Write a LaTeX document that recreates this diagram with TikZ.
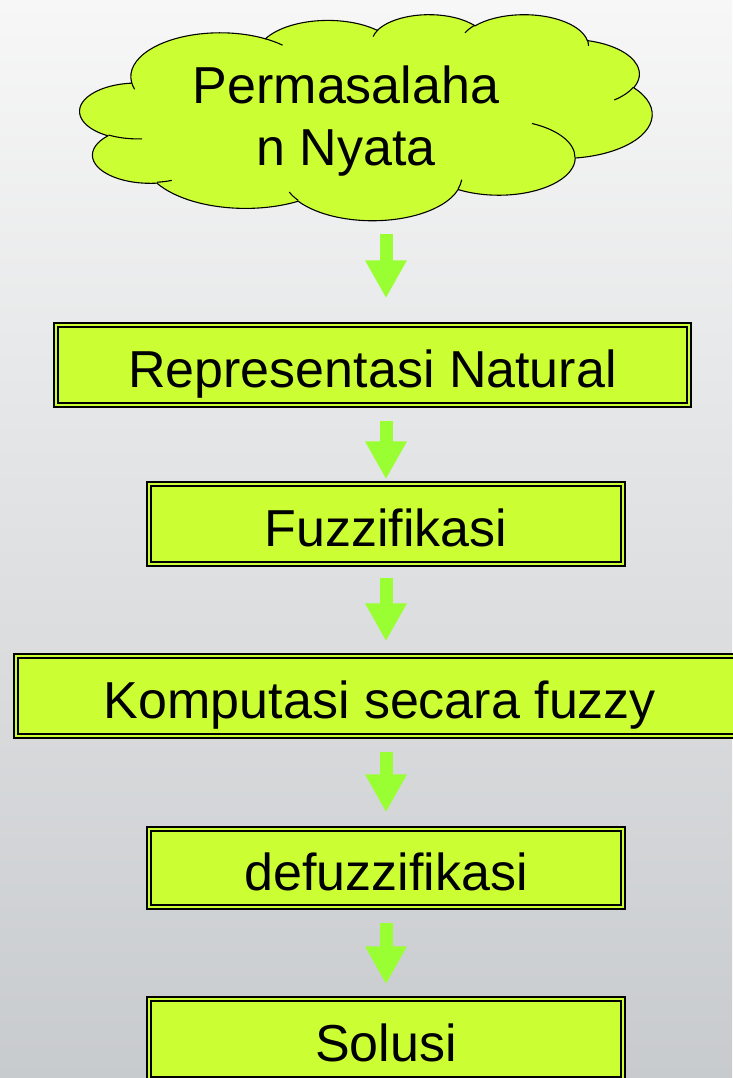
\documentclass[tikz,border=0pt]{standalone}
\usepackage{fontspec}
\setmainfont{Liberation Sans}
\usetikzlibrary{arrows.meta,calc}
\definecolor{boxfill}{RGB}{204,255,51}
\definecolor{arrowgreen}{RGB}{153,255,51}
\definecolor{bgtop}{RGB}{247,247,247}
\definecolor{bgbot}{RGB}{200,203,206}
\tikzset{
  stepbox/.style={preaction={draw=black, line width=10pt},
    preaction={draw=boxfill, line width=5.6pt},
    draw=black, line width=1.4pt, fill=boxfill, inner sep=0pt,
    text height=44pt, text depth=0pt, font=\fontsize{52}{62}\selectfont},
  flowarrow/.style={draw=arrowgreen, line width=13pt, line cap=butt,
    -{Triangle[width=39pt,length=38pt]}},
  cloudline/.style={draw=black, line width=1.1pt, line join=round},
  ooarc/.style n args={4}{insert path={arc[x radius=#1, y radius=#2,
    start angle={atan2(#1*sin(#3),#2*cos(#3))},
    delta angle={Mod(atan2(#1*sin(#3+#4),#2*cos(#3+#4))-atan2(#1*sin(#3),#2*cos(#3)),360)}]}},
}
\begin{document}
\begin{tikzpicture}[x=1pt,y=-1pt]
\shade[top color=bgtop, bottom color=bgbot] (0,0) rectangle (732,1078);
\useasboundingbox (0,0) rectangle (732,1078);
\coordinate (axis) at (386,0);
% cloud outline (PowerPoint cloud geometry, 10800 units)
\begin{scope}[shift={(80,14)}, x=0.052963pt, y=-0.019074pt]
\path[cloudline, fill=boxfill] (975,3592.5)
  [ooarc={1688.25}{2297.5}{-190.4875}{123.7805}]
  [ooarc={1333.25}{1816.75}{-144.1024}{89.9452}]
  [ooarc={1091.25}{1486.25}{-145.8079}{99.7230}]
  [ooarc={1214.25}{1648.75}{-130.9861}{117.2417}]
  [ooarc={1333.25}{1818.25}{-78.7089}{109.0269}]
  [ooarc={1693.75}{2305}{-46.2673}{130.2690}]
  [ooarc={1446.25}{1966.75}{0.6250}{114.0333}]
  [ooarc={1688}{2303.75}{22.4516}{115.1726}]
  [ooarc={1930}{2635.75}{66.2426}{75.7110}]
  [ooarc={1090}{1479.5}{-274.9421}{146.7356}]
  [ooarc={1086.25}{1486.25}{-246.8285}{152.5189}] -- cycle;
\path[cloudline]
  (1173.25,6544.25) [ooarc={1086.25}{1486.25}{86.7420}{26.4295}]
  (1732,8724.75) [ooarc={1090}{1479.5}{73.6105}{11.4475}]
  (4119.5,9772.5) [ooarc={1688}{2303.75}{137.6242}{14.0811}]
  (7206.75,8687.75) [ooarc={1688}{2303.75}{6.4533}{15.9984}]
  (8532.25,5738.5) [ooarc={1446.25}{1966.75}{-70.2924}{70.9174}]
  (10449.5,3838.5) [ooarc={1333.25}{1818.25}{30.3180}{27.7515}]
  (9581,1356.5) [ooarc={1214.25}{1648.75}{-13.7443}{14.8589}]
  (7269.5,988) [ooarc={1214.25}{1648.75}{-149.1815}{18.1954}]
  (5535.25,1180) [ooarc={1091.25}{1486.25}{-163.4943}{17.6864}]
  (3500,1298) [ooarc={1688.25}{2297.5}{-66.7070}{12.3194}]
  (1031.75,3947.25) [ooarc={1688.25}{2297.5}{157.6544}{11.8582}];
\end{scope}
\coordinate (cloudbot) at (386,217);
\node[align=center, inner sep=0pt, font=\fontsize{52}{62}\selectfont] (cloud) at (346,121) {Permasalaha\\n Nyata};
\node[stepbox, minimum width=629pt, minimum height=76pt] (rep) at (372.5,365) {Representasi Natural};
\node[stepbox, minimum width=470pt, minimum height=76pt] (fuz) at (386,524) {Fuzzifikasi};
\node[stepbox, minimum width=724pt, minimum height=76pt] (komp) at (380,696) {Komputasi secara fuzzy};
\node[stepbox, minimum width=470pt, minimum height=74pt] (defuz) at (386,868) {defuzzifikasi};
\node[stepbox, minimum width=470pt, minimum height=76pt] (sol) at (386,1039) {Solusi};
\draw[flowarrow] ($(cloudbot)+(0,17)$) -- ($(rep.north -| axis)+(0,-28)$);
\draw[flowarrow] ($(rep.south -| axis)+(0,17)$) -- ($(fuz.north -| axis)+(0,-6)$);
\draw[flowarrow] ($(fuz.south -| axis)+(0,15)$) -- ($(komp.north -| axis)+(0,-16)$);
\draw[flowarrow] ($(komp.south -| axis)+(0,17)$) -- ($(defuz.north -| axis)+(0,-18)$);
\draw[flowarrow] ($(defuz.south -| axis)+(0,17)$) -- ($(sol.north -| axis)+(0,-16)$);
\end{tikzpicture}
\end{document}
